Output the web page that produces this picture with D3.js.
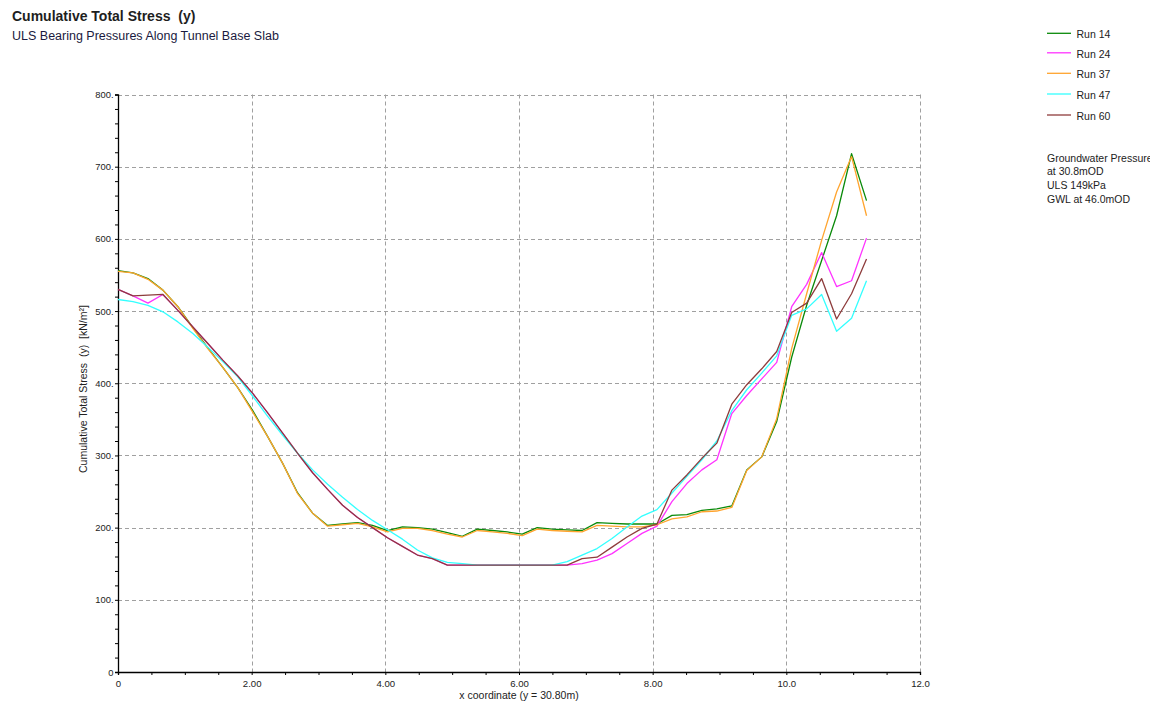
<!DOCTYPE html>
<html>
<head>
<meta charset="utf-8">
<script src="https://cdn.jsdelivr.net/npm/d3@7/dist/d3.min.js"></script>
<style>
  html, body { margin: 0; padding: 0; background: #fff; }
  svg { display: block; font-family: "Liberation Sans", Arial, sans-serif; }
  svg text { white-space: pre; }
</style>
</head>
<body>
<svg id="chart" width="1150" height="702"></svg>
<script>
// ---------- DATA ----------
const xCoords = [0, 0.224, 0.448, 0.672, 0.896, 1.12, 1.344, 1.568, 1.792, 2.016,
  2.24, 2.464, 2.688, 2.912, 3.136, 3.36, 3.584, 3.808, 4.032, 4.256,
  4.48, 4.704, 4.928, 5.152, 5.376, 5.6, 5.824, 6.048, 6.272, 6.496,
  6.72, 6.944, 7.168, 7.392, 7.616, 7.84, 8.064, 8.288, 8.512, 8.736,
  8.96, 9.184, 9.408, 9.632, 9.856, 10.08, 10.304, 10.528, 10.752, 10.976, 11.2];

const run14 = [556, 553, 545, 529, 506, 477, 449, 422, 394, 362,
  326, 289, 248, 220, 203, 205, 207, 203, 196, 201,
  200, 198, 193, 188, 198, 196, 194, 191, 200, 198,
  197, 196, 207, 206, 205, 205, 205, 217, 218, 224,
  226, 230, 280, 298, 347, 436, 508, 570, 632, 718, 653];

const run24 = [530, 521, 511, 523, 501, 478, 455, 432, 410, 386,
  359, 331, 303, 276, 253, 231, 214, 200, 186, 174,
  162, 157, 148, 148, 148, 148, 148, 148, 148, 148,
  148, 150, 155, 164, 178, 192, 202, 236, 261, 280,
  294, 358, 383, 406, 429, 506, 537, 581, 534, 542, 601];

const run37 = [555, 553, 544, 529, 506, 476, 448, 422, 394, 360,
  326, 289, 247, 220, 202, 204, 206, 201, 194, 199,
  199, 196, 191, 187, 196, 194, 192, 189, 198, 196,
  195, 194, 203, 202, 201, 201, 204, 212, 215, 222,
  223, 228, 279, 298, 351, 448, 524, 598, 665, 714, 632];

const run47 = [516, 513, 508, 499, 485, 469, 450, 430, 409, 382,
  354, 328, 303, 280, 260, 242, 225, 210, 197, 184,
  169, 158, 152, 150, 148, 148, 148, 148, 148, 148,
  153, 162, 171, 185, 201, 216, 225, 248, 271, 294,
  320, 362, 391, 414, 438, 494, 503, 523, 472, 490, 542];

const run60 = [530, 521, 522, 523, 501, 478, 455, 432, 410, 386,
  359, 331, 303, 276, 253, 231, 214, 200, 186, 174,
  162, 157, 148, 148, 148, 148, 148, 148, 148, 148,
  148, 157, 159, 173, 187, 199, 205, 252, 273, 296,
  317, 371, 398, 420, 444, 498, 511, 545, 489, 524, 572];

const seriesNames = ["Run 14", "Run 24", "Run 37", "Run 47", "Run 60"];
const seriesColors = ["#0a8a0a", "#ff33ff", "#ffa42e", "#33ffff", "#8e3c3c"];
const seriesValues = [run14, run24, run37, run47, run60];

const xMajorTicks = [0, 2, 4, 6, 8, 10, 12];
const xTickLabels = ["0", "2.00", "4.00", "6.00", "8.00", "10.0", "12.0"];
const yMajorTicks = [0, 100, 200, 300, 400, 500, 600, 700, 800];
const yTickLabels = ["0", "100.", "200.", "300.", "400.", "500.", "600.", "700.", "800."];

const noteLines = ["Groundwater Pressure", "at 30.8mOD", "ULS 149kPa", "GWL at 46.0mOD"];

const titleText = "Cumulative Total Stress  (y)";
const subtitleText = "ULS Bearing Pressures Along Tunnel Base Slab";
const xLabelText = "x coordinate (y = 30.80m)";
const yLabelText = "Cumulative Total Stress  (y)  [kN/m\u00B2]";

// ---------- LAYOUT ----------
(function () {
const svg = d3.select("#chart");
const pL = 118, pR = 920, pT = 94.5, pB = 672;

const x = d3.scaleLinear().domain([0, 12]).range([pL, pR]);
const y = d3.scaleLinear().domain([0, 800]).range([pB, pT]);

// Title
svg.append("text").attr("x", 12).attr("y", 21)
  .attr("font-size", 14).attr("font-weight", "bold").attr("fill", "#1e1e1e")
  .text(titleText);
svg.append("text").attr("x", 12).attr("y", 40)
  .attr("font-size", 12.5).attr("fill", "#1a1a40")
  .text(subtitleText);

// Grid
const grid = svg.append("g").attr("stroke", "#a0a0a0").attr("stroke-width", 1)
  .attr("stroke-dasharray", "4,3").attr("fill", "none");
xMajorTicks.filter(d => d > 0).forEach(d => {
  grid.append("line").attr("x1", Math.round(x(d)) + 0.5).attr("x2", Math.round(x(d)) + 0.5)
    .attr("y1", pT).attr("y2", pB);
});
yMajorTicks.filter(d => d > 0).forEach(d => {
  grid.append("line").attr("x1", pL).attr("x2", pR)
    .attr("y1", Math.round(y(d)) + 0.5).attr("y2", Math.round(y(d)) + 0.5);
});

// Axes
const xMinor = d3.range(0, 12.01, 0.5);
const yMinor = d3.range(0, 801, 20);

const xAxis = d3.axisBottom(x).tickValues(xMinor).tickSize(3)
  .tickFormat(d => {
    const i = xMajorTicks.indexOf(d);
    return i >= 0 ? xTickLabels[i] : "";
  });
const gx = svg.append("g").attr("transform", `translate(0,${pB})`).call(xAxis);
gx.select(".domain").attr("stroke", "#000").attr("stroke-width", 1.3);
gx.selectAll(".tick line").attr("stroke", "#000");
gx.selectAll(".tick text").attr("font-size", 9.6).attr("fill", "#222")
  .attr("font-family", "Liberation Sans, Arial, sans-serif")
  .attr("y", 15).attr("dy", 0);

const yAxis = d3.axisLeft(y).tickValues(yMinor).tickSize(3)
  .tickFormat(d => {
    const i = yMajorTicks.indexOf(d);
    return i >= 0 ? yTickLabels[i] : "";
  });
const gy = svg.append("g").attr("transform", `translate(${pL},0)`).call(yAxis);
gy.select(".domain").attr("stroke", "#000").attr("stroke-width", 1.3);
gy.selectAll(".tick line").attr("stroke", "#000");
gy.selectAll(".tick text").attr("font-size", 9.4).attr("fill", "#222")
  .attr("font-family", "Liberation Sans, Arial, sans-serif").attr("x", -4.5);

// Axis labels
svg.append("text").attr("x", (pL + pR) / 2).attr("y", 699)
  .attr("text-anchor", "middle").attr("font-size", 10.5).attr("fill", "#222")
  .text(xLabelText);
svg.append("text")
  .attr("transform", `translate(86.5,473) rotate(-90)`)
  .attr("text-anchor", "start").attr("font-size", 10.5).attr("fill", "#222")
  .text(yLabelText);

// Lines
const line = d3.line().x((d, i) => x(xCoords[i])).y(d => y(d));
seriesValues.forEach((vals, k) => {
  svg.append("path").datum(vals)
    .attr("fill", "none").attr("stroke", seriesColors[k])
    .attr("stroke-width", 1.3).attr("stroke-linejoin", "round")
    .attr("d", line);
});

// Legend
const legendY = [33.3, 52.8, 73.3, 94, 115];
seriesNames.forEach((n, k) => {
  svg.append("line").attr("x1", 1047).attr("x2", 1071)
    .attr("y1", legendY[k]).attr("y2", legendY[k])
    .attr("stroke", seriesColors[k]).attr("stroke-width", 1.3);
  svg.append("text").attr("x", 1076.5).attr("y", legendY[k] + 5)
    .attr("font-size", 10.5).attr("fill", "#222").text(n);
});
const noteY = [161.5, 175, 189, 202.5];
noteLines.forEach((t, k) => {
  svg.append("text").attr("x", 1047).attr("y", noteY[k])
    .attr("font-size", 10.5).attr("fill", "#222").text(t);
});
})();
</script>
</body>
</html>
